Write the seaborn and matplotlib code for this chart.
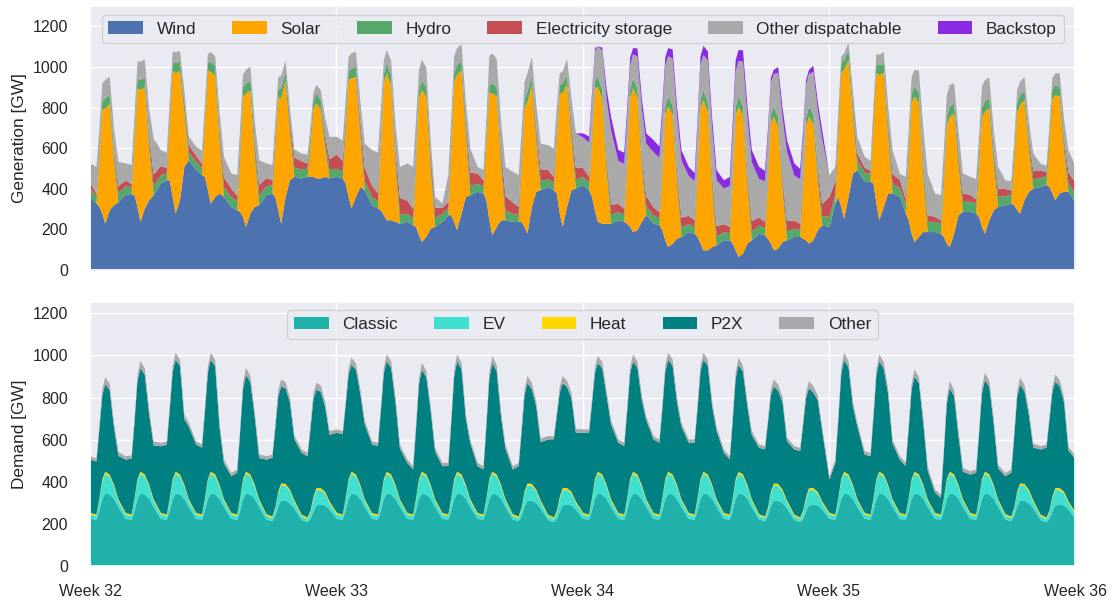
import numpy as np
import matplotlib
matplotlib.use('Agg')
import matplotlib.pyplot as plt
import seaborn as sns

# sample hours within each day (week 32 monday 00:00 = hour 0)
HOURS = [0, 4, 6, 8, 10, 13, 16, 19]
N_DAYS = 28
WEEK_TICKS = [0, 168, 336, 504, 672]
WEEK_LABELS = ['Week 32', 'Week 33', 'Week 34', 'Week 35', 'Week 36']

# ---------------- generation [GW], one row per day at HOURS ----------------
wind = [
    [362, 329, 313, 280, 230, 296, 321, 335],
    [375, 375, 370, 313, 239, 305, 346, 370],
    [428, 444, 444, 362, 280, 346, 510, 543],
    [494, 469, 461, 395, 329, 362, 379, 362],
    [313, 296, 288, 263, 214, 280, 313, 321],
    [370, 379, 362, 296, 230, 362, 444, 461],
    [453, 461, 461, 461, 453, 453, 461, 453],
    [461, 453, 428, 362, 305, 362, 411, 395],
    [321, 305, 296, 272, 247, 247, 239, 230],
    [239, 222, 214, 173, 140, 165, 206, 214],
    [239, 272, 272, 239, 198, 280, 362, 370],
    [387, 379, 346, 247, 173, 214, 247, 247],
    [239, 239, 239, 214, 181, 313, 387, 395],
    [411, 395, 379, 280, 214, 313, 395, 403],
    [420, 395, 362, 296, 239, 230, 230, 230],
    [247, 239, 230, 214, 189, 198, 239, 272],
    [230, 222, 198, 148, 115, 132, 156, 165],
    [189, 181, 165, 132, 99, 99, 115, 123],
    [148, 148, 132, 99, 66, 82, 132, 148],
    [181, 173, 156, 132, 99, 107, 140, 148],
    [165, 165, 156, 148, 132, 148, 198, 222],
    [214, 329, 362, 313, 255, 362, 477, 494],
    [436, 436, 428, 329, 247, 313, 379, 379],
    [362, 280, 247, 181, 140, 165, 189, 189],
    [189, 181, 165, 132, 115, 181, 272, 288],
    [288, 280, 263, 214, 181, 247, 296, 313],
    [321, 329, 321, 296, 280, 346, 387, 403],
    [411, 420, 411, 379, 346, 379, 387, 387],
]
solar = [
    [0, 0, 227, 511, 568, 523, 216, 0],
    [0, 0, 260, 585, 650, 598, 247, 0],
    [0, 0, 276, 622, 691, 636, 263, 0],
    [0, 0, 260, 585, 650, 598, 247, 0],
    [0, 0, 263, 592, 658, 605, 250, 0],
    [0, 0, 247, 556, 618, 569, 235, 0],
    [0, 0, 148, 333, 370, 340, 141, 0],
    [0, 0, 256, 577, 641, 590, 244, 0],
    [0, 0, 290, 652, 724, 666, 275, 0],
    [0, 0, 300, 674, 749, 689, 285, 0],
    [0, 0, 306, 689, 765, 704, 291, 0],
    [0, 0, 280, 629, 699, 643, 266, 0],
    [0, 0, 260, 585, 650, 598, 247, 0],
    [0, 0, 263, 592, 658, 605, 250, 0],
    [0, 0, 266, 599, 666, 613, 253, 0],
    [0, 0, 283, 637, 708, 651, 269, 0],
    [0, 0, 277, 623, 692, 637, 263, 0],
    [0, 0, 296, 666, 740, 681, 281, 0],
    [0, 0, 296, 667, 741, 682, 282, 0],
    [0, 0, 263, 592, 658, 605, 250, 0],
    [0, 0, 250, 563, 625, 575, 238, 0],
    [0, 0, 293, 660, 733, 674, 279, 0],
    [0, 0, 286, 644, 716, 659, 272, 0],
    [0, 0, 286, 644, 716, 659, 272, 0],
    [0, 0, 257, 578, 642, 591, 244, 0],
    [0, 0, 240, 541, 601, 553, 228, 0],
    [0, 0, 214, 482, 535, 492, 203, 0],
    [0, 0, 207, 466, 518, 477, 197, 0],
]
hydro = [
    [40, 35, 35, 40, 50, 45, 40, 45],
    [40, 35, 35, 40, 50, 45, 40, 45],
    [40, 35, 35, 40, 50, 45, 40, 40],
    [40, 35, 35, 40, 50, 45, 45, 45],
    [50, 45, 45, 45, 50, 50, 50, 50],
    [45, 40, 40, 40, 50, 45, 45, 45],
    [45, 40, 40, 40, 50, 45, 45, 45],
    [40, 35, 35, 40, 50, 45, 45, 45],
    [40, 35, 35, 40, 50, 45, 45, 45],
    [40, 35, 35, 40, 50, 45, 45, 45],
    [40, 35, 35, 40, 50, 45, 45, 45],
    [40, 35, 35, 40, 50, 45, 45, 45],
    [40, 35, 35, 40, 50, 45, 45, 45],
    [40, 35, 35, 40, 50, 45, 45, 45],
    [40, 35, 35, 40, 50, 45, 45, 45],
    [40, 35, 35, 40, 50, 45, 45, 45],
    [40, 35, 35, 40, 50, 45, 45, 45],
    [40, 35, 35, 40, 50, 45, 45, 45],
    [40, 35, 35, 40, 50, 45, 45, 45],
    [40, 35, 35, 40, 50, 45, 45, 45],
    [40, 35, 35, 40, 50, 45, 45, 45],
    [50, 50, 50, 45, 50, 45, 50, 50],
    [45, 40, 40, 45, 50, 45, 45, 45],
    [45, 45, 45, 45, 50, 50, 50, 50],
    [50, 50, 50, 45, 50, 50, 50, 50],
    [50, 50, 50, 45, 50, 50, 50, 50],
    [45, 45, 45, 45, 50, 45, 45, 45],
    [45, 45, 45, 45, 50, 45, 45, 45],
]
storage = [
    [28, 14, 10, 0, 0, 0, 18, 35],
    [28, 15, 10, 0, 0, 0, 29, 58],
    [46, 25, 15, 0, 0, 0, 20, 35],
    [30, 20, 10, 0, 0, 0, 25, 50],
    [40, 25, 15, 0, 0, 0, 25, 50],
    [40, 25, 15, 0, 0, 0, 25, 50],
    [40, 25, 15, 0, 0, 0, 25, 50],
    [70, 50, 30, 0, 0, 0, 35, 66],
    [55, 40, 25, 0, 0, 0, 40, 82],
    [65, 45, 25, 0, 0, 0, 33, 50],
    [30, 30, 20, 0, 0, 0, 33, 66],
    [50, 30, 15, 0, 0, 0, 37, 74],
    [55, 40, 25, 0, 0, 0, 29, 58],
    [45, 30, 20, 0, 0, 0, 29, 58],
    [45, 30, 20, 0, 0, 0, 25, 50],
    [40, 30, 20, 0, 0, 0, 25, 50],
    [40, 30, 20, 0, 0, 0, 25, 50],
    [40, 30, 20, 0, 0, 0, 25, 50],
    [40, 30, 20, 0, 0, 0, 25, 50],
    [40, 30, 20, 0, 0, 0, 25, 50],
    [40, 30, 20, 0, 0, 0, 30, 60],
    [99, 60, 30, 0, 0, 0, 17, 33],
    [25, 15, 10, 0, 0, 0, 25, 50],
    [40, 25, 15, 0, 0, 0, 17, 33],
    [25, 15, 10, 0, 0, 0, 20, 41],
    [35, 20, 10, 0, 0, 0, 20, 41],
    [35, 20, 10, 0, 0, 0, 20, 41],
    [35, 20, 10, 0, 0, 0, 25, 50],
]
other_disp = [
    [97, 132, 110, 90, 90, 90, 105, 120],
    [84, 95, 95, 90, 90, 90, 130, 177],
    [79, 76, 70, 54, 54, 54, 50, 42],
    [45, 66, 60, 46, 46, 50, 80, 103],
    [74, 104, 90, 66, 66, 70, 95, 122],
    [72, 76, 70, 60, 60, 60, 50, 40],
    [38, 44, 45, 41, 41, 50, 80, 110],
    [87, 102, 95, 74, 74, 80, 100, 119],
    [177, 200, 150, 70, 65, 75, 120, 153],
    [183, 208, 170, 100, 98, 100, 70, 53],
    [21, 133, 120, 85, 82, 85, 100, 119],
    [33, 51, 80, 140, 148, 140, 140, 144],
    [152, 156, 130, 90, 90, 95, 110, 127],
    [121, 140, 110, 60, 57, 80, 130, 169],
    [150, 170, 165, 145, 148, 195, 290, 367],
    [211, 221, 185, 120, 118, 160, 220, 258],
    [272, 268, 235, 200, 198, 230, 270, 283],
    [196, 194, 190, 175, 172, 210, 230, 226],
    [176, 202, 200, 175, 174, 220, 270, 290],
    [189, 202, 185, 160, 161, 215, 290, 344],
    [222, 220, 195, 160, 161, 210, 280, 319],
    [106, 71, 50, 35, 32, 40, 60, 81],
    [54, 49, 50, 49, 49, 60, 90, 119],
    [30, 110, 100, 82, 82, 110, 170, 205],
    [115, 124, 115, 107, 107, 100, 100, 98],
    [88, 100, 100, 106, 106, 100, 100, 106],
    [43, 46, 50, 65, 65, 70, 80, 87],
    [36, 30, 40, 57, 57, 70, 90, 111],
]
backstop = [[0] * 8 for _ in range(14)] + [
    [20, 30, 25, 15, 0, 15, 50, 65],
    [55, 55, 45, 35, 30, 40, 50, 50],
    [60, 55, 45, 40, 40, 45, 50, 50],
    [45, 40, 35, 40, 45, 45, 50, 50],
    [40, 45, 50, 55, 55, 55, 55, 60],
    [60, 50, 35, 25, 20, 30, 50, 55],
    [60, 50, 35, 25, 20, 30, 40, 45],
] + [[0] * 8 for _ in range(7)]
# values at the very end (week 36, 00:00)
gen_end = [329, 0, 45, 55, 81, 0]

# ---------------- demand [GW] ----------------
cl_wd = [225, 222, 265, 320, 345, 342, 320, 282]
cl_sa = [222, 215, 240, 285, 312, 312, 300, 275]
cl_su = [220, 210, 225, 260, 290, 292, 290, 270]
classic = ([cl_wd] * 5 + [cl_sa, cl_su]) * 4
ev_wd = [21, 16, 50, 85, 95, 85, 58, 28]
ev_we = [18, 14, 30, 60, 72, 70, 55, 30]
ev = ([ev_wd] * 5 + [ev_we] * 2) * 4
heat = [[8, 8, 9, 10, 10, 10, 9, 9]] * N_DAYS
p2x = [
    [253, 252, 326, 399, 416, 402, 272, 206],
    [253, 267, 365, 466, 492, 473, 332, 256],
    [317, 332, 420, 510, 532, 515, 311, 345],
    [325, 318, 412, 507, 532, 514, 271, 171],
    [174, 199, 312, 428, 460, 438, 322, 196],
    [259, 279, 377, 452, 461, 453, 415, 291],
    [293, 292, 391, 465, 467, 458, 405, 316],
    [381, 382, 441, 497, 508, 497, 432, 356],
    [325, 326, 413, 502, 524, 507, 392, 241],
    [238, 215, 331, 451, 484, 462, 352, 226],
    [222, 231, 356, 488, 524, 500, 312, 266],
    [222, 215, 344, 478, 516, 491, 322, 241],
    [212, 240, 360, 460, 477, 450, 395, 276],
    [357, 372, 451, 495, 499, 480, 445, 326],
    [381, 390, 449, 505, 516, 505, 422, 356],
    [333, 326, 413, 502, 524, 507, 402, 376],
    [349, 342, 426, 511, 532, 516, 392, 346],
    [333, 342, 426, 511, 532, 516, 372, 326],
    [285, 262, 369, 479, 508, 487, 372, 306],
    [315, 319, 401, 458, 461, 442, 415, 281],
    [309, 316, 408, 470, 475, 454, 435, 336],
    [158, 247, 369, 497, 532, 508, 372, 346],
    [277, 278, 385, 495, 524, 503, 432, 266],
    [253, 231, 328, 426, 452, 433, 292, 136],
    [95, 80, 215, 357, 397, 371, 232, 131],
    [182, 199, 302, 408, 436, 416, 292, 146],
    [180, 208, 338, 448, 469, 440, 355, 251],
    [309, 332, 430, 495, 506, 483, 425, 241],
]
other_dem = [[16, 15, 18, 28, 34, 30, 24, 18]] * N_DAYS
dem_end = [225, 20, 8, 254, 16]


def flat(rows, end):
    return np.append(np.ravel(rows), end)


x = np.array([24 * d + h for d in range(N_DAYS) for h in HOURS] + [24 * N_DAYS])

gen_names = ['Wind', 'Solar', 'Hydro', 'Electricity storage', 'Other dispatchable', 'Backstop']
gen_colors = ['#4C72B0', '#FFA500', '#55A868', '#C44E52', '#A9A9A9', '#8A2BE2']
gen = [flat(s, e) for s, e in zip([wind, solar, hydro, storage, other_disp, backstop], gen_end)]

dem_names = ['Classic', 'EV', 'Heat', 'P2X', 'Other']
dem_colors = ['#20B2AA', '#40E0D0', '#FFD700', '#008080', '#A9A9A9']
dem = [flat(s, e) for s, e in zip([classic, ev, heat, p2x, other_dem], dem_end)]

sns.set_theme(style='darkgrid')
plt.rcParams['font.family'] = ['Liberation Sans', 'DejaVu Sans']

fig, (ax1, ax2) = plt.subplots(2, 1, figsize=(11.12, 6.0), dpi=100, sharex=True)
fig.subplots_adjust(left=0.081, right=0.967, top=0.99, bottom=0.057, hspace=0.121)

ax1.stackplot(x, *gen, labels=gen_names, colors=gen_colors, lw=0)
ax1.set_ylim(0, 1300)
ax1.set_yticks(range(0, 1201, 200))
ax1.set_ylabel('Generation [GW]', fontsize=12.4)
ax1.legend(loc='upper center', ncol=6, fontsize=12.4, columnspacing=2.1)

ax2.stackplot(x, *dem, labels=dem_names, colors=dem_colors, lw=0)
ax2.set_ylim(0, 1255)
ax2.set_yticks(range(0, 1201, 200))
ax2.set_ylabel('Demand [GW]', fontsize=12.4)
ax2.legend(loc='upper center', ncol=5, fontsize=12.4, columnspacing=2.1)

ax2.set_xlim(0, 24 * N_DAYS)
ax2.set_xticks(WEEK_TICKS, WEEK_LABELS)
for ax in (ax1, ax2):
    ax.tick_params(axis='y', labelsize=11.5, pad=9.8)
    ax.tick_params(axis='x', labelsize=11.5, pad=7)

plt.savefig('out.png', dpi=100)
